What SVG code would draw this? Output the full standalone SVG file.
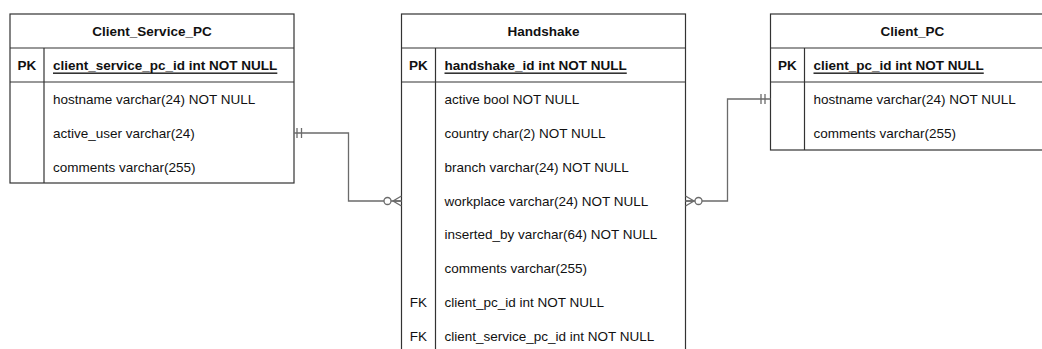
<svg xmlns="http://www.w3.org/2000/svg" width="1042" height="349" viewBox="0 0 1042 349">
  <style>
    .box { fill: #ffffff; stroke: #333333; stroke-width: 1.2; }
    .sep { fill: none; stroke: #333333; stroke-width: 1.2; }
    .title { font-family: "Liberation Sans", Arial, sans-serif; font-size: 13.5px; font-weight: bold; fill: #111111; text-anchor: middle; dominant-baseline: central; }
    .key { font-family: "Liberation Sans", Arial, sans-serif; font-size: 13.5px; font-weight: bold; fill: #111111; text-anchor: middle; dominant-baseline: central; }
    .fk { font-family: "Liberation Sans", Arial, sans-serif; font-size: 13.5px; fill: #111111; text-anchor: middle; dominant-baseline: central; }
    .pkfield { font-family: "Liberation Sans", Arial, sans-serif; font-size: 13.5px; font-weight: bold; fill: #111111; text-decoration: underline; dominant-baseline: central; }
    .field { font-family: "Liberation Sans", Arial, sans-serif; font-size: 13.5px; fill: #111111; dominant-baseline: central; }
    .link { fill: none; stroke: #6b6b6b; stroke-width: 1.3; }
    .mark { fill: #ffffff; stroke: #6b6b6b; stroke-width: 1.3; }
  </style>

  <!-- Client_Service_PC table -->
  <g id="client_service_pc">
    <rect class="box" x="10" y="14" width="284" height="169"/>
    <line class="sep" x1="10" y1="48" x2="294" y2="48"/>
    <line class="sep" x1="10" y1="82" x2="294" y2="82"/>
    <line class="sep" x1="44" y1="48" x2="44" y2="183"/>
    <text class="title" x="152" y="31">Client_Service_PC</text>
    <text class="key" x="27" y="65">PK</text>
    <text class="pkfield" x="53" y="65">client_service_pc_id int NOT NULL</text>
    <text class="field" x="53" y="99">hostname varchar(24) NOT NULL</text>
    <text class="field" x="53" y="133">active_user varchar(24)</text>
    <text class="field" x="53" y="167">comments varchar(255)</text>
  </g>

  <!-- Handshake table -->
  <g id="handshake">
    <rect class="box" x="401.5" y="14" width="284" height="345"/>
    <line class="sep" x1="401.5" y1="48" x2="685.5" y2="48"/>
    <line class="sep" x1="401.5" y1="82" x2="685.5" y2="82"/>
    <line class="sep" x1="435.5" y1="48" x2="435.5" y2="359"/>
    <text class="title" x="543.5" y="31">Handshake</text>
    <text class="key" x="418.5" y="65">PK</text>
    <text class="pkfield" x="444.5" y="65">handshake_id int NOT NULL</text>
    <text class="field" x="444.5" y="99.3">active bool NOT NULL</text>
    <text class="field" x="444.5" y="133.2">country char(2) NOT NULL</text>
    <text class="field" x="444.5" y="167.1">branch varchar(24) NOT NULL</text>
    <text class="field" x="444.5" y="201">workplace varchar(24) NOT NULL</text>
    <text class="field" x="444.5" y="234.9">inserted_by varchar(64) NOT NULL</text>
    <text class="field" x="444.5" y="268.8">comments varchar(255)</text>
    <text class="fk" x="418.5" y="302.7">FK</text>
    <text class="field" x="444.5" y="302.7">client_pc_id int NOT NULL</text>
    <text class="fk" x="418.5" y="336.6">FK</text>
    <text class="field" x="444.5" y="336.6">client_service_pc_id int NOT NULL</text>
  </g>

  <!-- Client_PC table -->
  <g id="client_pc">
    <rect class="box" x="770.5" y="14" width="284" height="136"/>
    <line class="sep" x1="770.5" y1="48" x2="1054.5" y2="48"/>
    <line class="sep" x1="770.5" y1="82" x2="1054.5" y2="82"/>
    <line class="sep" x1="804.5" y1="48" x2="804.5" y2="150"/>
    <text class="title" x="912.5" y="31">Client_PC</text>
    <text class="key" x="787.5" y="65">PK</text>
    <text class="pkfield" x="813.5" y="65">client_pc_id int NOT NULL</text>
    <text class="field" x="813.5" y="99">hostname varchar(24) NOT NULL</text>
    <text class="field" x="813.5" y="133">comments varchar(255)</text>
  </g>

  <!-- relationships -->
  <g id="connectors">
    <!-- Client_Service_PC (one) to Handshake (zero or many) -->
    <path class="link" d="M294 133 H348.5 V201 H401.5"/>
    <line class="link" x1="297" y1="128" x2="297" y2="138"/>
    <line class="link" x1="301.5" y1="128" x2="301.5" y2="138"/>
    <path class="link" d="M401.5 196 L393 201 L401.5 206 M393 201 H401.5"/>
    <circle class="mark" cx="387.5" cy="201" r="3.5"/>

    <!-- Client_PC (one) to Handshake (zero or many) -->
    <path class="link" d="M685.5 201 H727.5 V99 H770.5"/>
    <line class="link" x1="761" y1="94" x2="761" y2="104"/>
    <line class="link" x1="765" y1="94" x2="765" y2="104"/>
    <path class="link" d="M685.5 196 L694 201 L685.5 206 M694 201 H685.5"/>
    <circle class="mark" cx="698.5" cy="201" r="3.5"/>
  </g>
</svg>
